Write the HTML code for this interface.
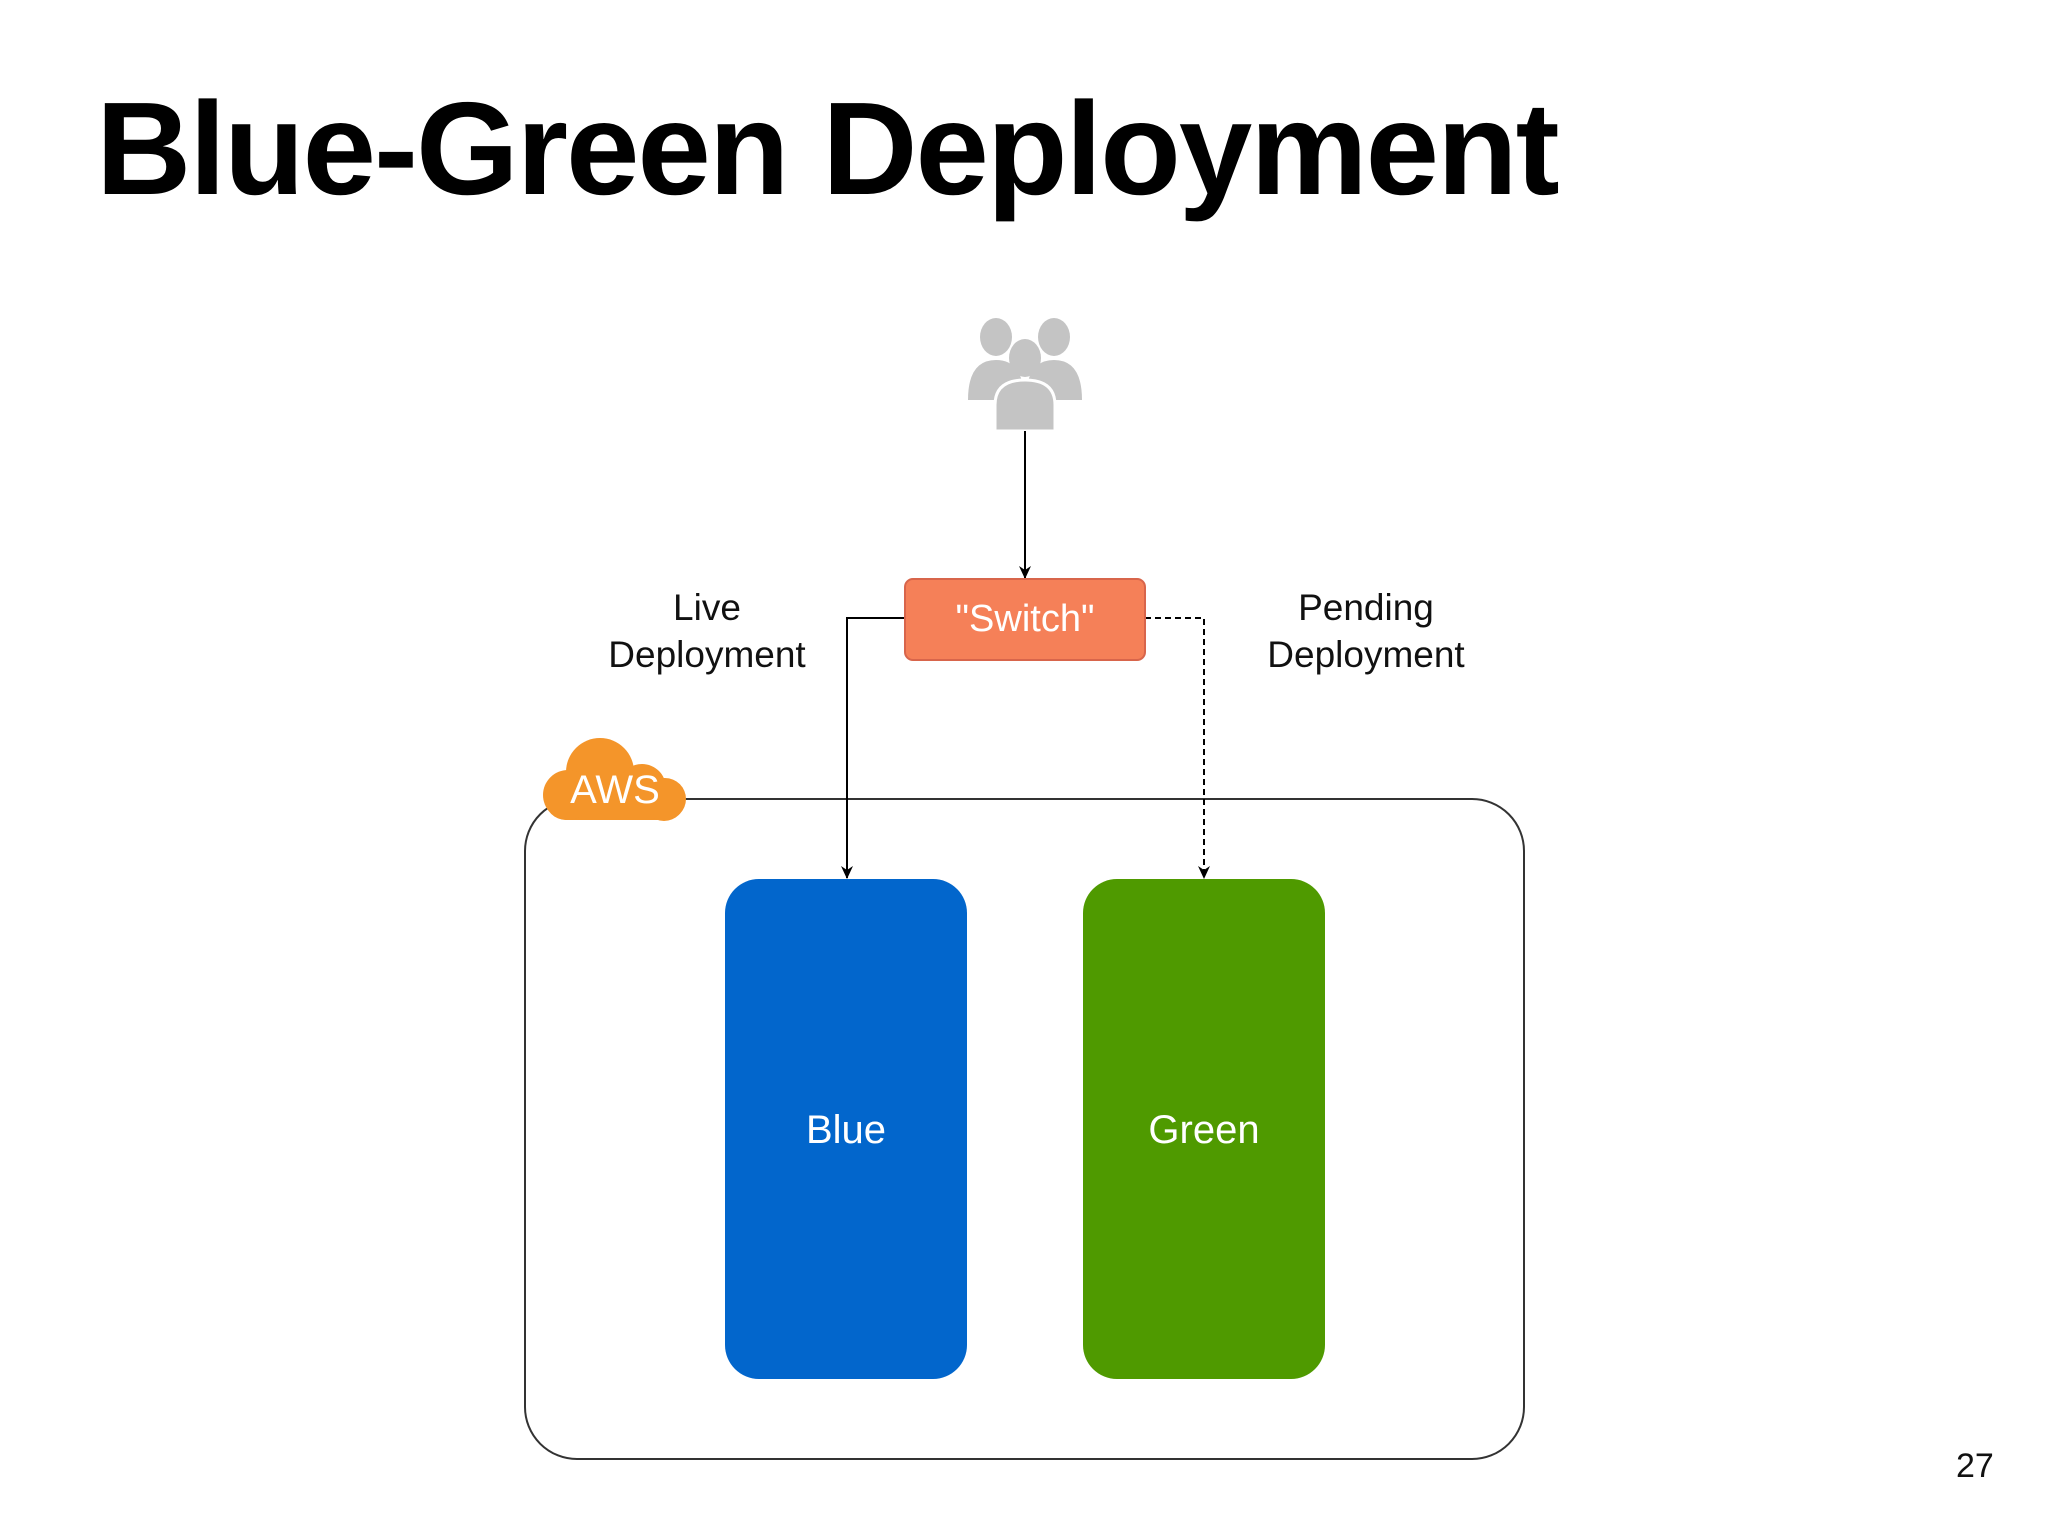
<!DOCTYPE html>
<html><head><meta charset="utf-8"><style>
html,body{margin:0;padding:0;background:#fff;}
body{width:2048px;height:1536px;position:relative;overflow:hidden;font-family:"Liberation Sans",sans-serif;}
.t{position:absolute;white-space:nowrap;}
</style></head><body>
<div class="t" style="left:96px;top:74px;font-size:132px;font-weight:bold;color:#000;letter-spacing:-2px;line-height:150px;">Blue-Green Deployment</div>
<svg width="2048" height="1536" style="position:absolute;left:0;top:0">
<defs>
<marker id="a" markerWidth="14" markerHeight="14" refX="12" refY="7" orient="auto" markerUnits="userSpaceOnUse">
<path d="M0,1 L13,7 L0,13 L4,7 Z" fill="#000"/></marker>
</defs>
<g fill="#c4c4c4">
<ellipse cx="996" cy="337" rx="16" ry="19"/>
<ellipse cx="1054" cy="337" rx="16" ry="19"/>
<path d="M968,400 Q968,360 996,360 Q1024,360 1024,400 Z"/>
<path d="M1026,400 Q1026,360 1054,360 Q1082,360 1082,400 Z"/>
<ellipse cx="1025" cy="358" rx="16" ry="19"/>
<path d="M995,431 L995,405 Q995,380 1025,380 Q1055,380 1055,405 L1055,431 Z" stroke="#fff" stroke-width="3"/>
</g>
<line x1="1025" y1="431" x2="1025" y2="578" stroke="#000" stroke-width="2" marker-end="url(#a)"/>
<rect x="525" y="799" width="999" height="660" rx="52" fill="none" stroke="#333" stroke-width="2"/>
<polyline points="905,618 847,618 847,878" fill="none" stroke="#000" stroke-width="2" marker-end="url(#a)"/>
<polyline points="1145,618 1204,618 1204,878" fill="none" stroke="#000" stroke-width="2" stroke-dasharray="6,4" marker-end="url(#a)"/>
<rect x="905" y="579" width="240" height="81" rx="8" fill="#f58058" stroke="#d8654b" stroke-width="2"/>
<g fill="#f4952a">
<circle cx="600" cy="772" r="34"/>
<circle cx="642" cy="788" r="24"/>
<rect x="545" y="778" width="141" height="42" rx="21"/>
<circle cx="568" cy="795" r="25"/>
<circle cx="664" cy="800" r="21"/>
</g>
<rect x="725" y="879" width="242" height="500" rx="34" fill="#0266cc"/>
<rect x="1083" y="879" width="242" height="500" rx="34" fill="#4f9a00"/>
</svg>
<div class="t" style="left:905px;top:598px;width:240px;text-align:center;font-size:38px;color:#fff;line-height:42px;">"Switch"</div>
<div class="t" style="left:555px;top:768px;width:120px;text-align:center;font-size:40px;color:#fff;line-height:44px;">AWS</div>
<div class="t" style="left:557px;top:584px;width:300px;text-align:center;font-size:37px;color:#111;line-height:47px;">Live<br>Deployment</div>
<div class="t" style="left:1216px;top:584px;width:300px;text-align:center;font-size:37px;color:#111;line-height:47px;">Pending<br>Deployment</div>
<div class="t" style="left:725px;top:1108px;width:242px;text-align:center;font-size:40px;color:#fff;line-height:44px;">Blue</div>
<div class="t" style="left:1083px;top:1108px;width:242px;text-align:center;font-size:40px;color:#fff;line-height:44px;">Green</div>
<div class="t" style="left:1956px;top:1446px;font-size:34px;color:#111;line-height:40px;">27</div>
</body></html>
